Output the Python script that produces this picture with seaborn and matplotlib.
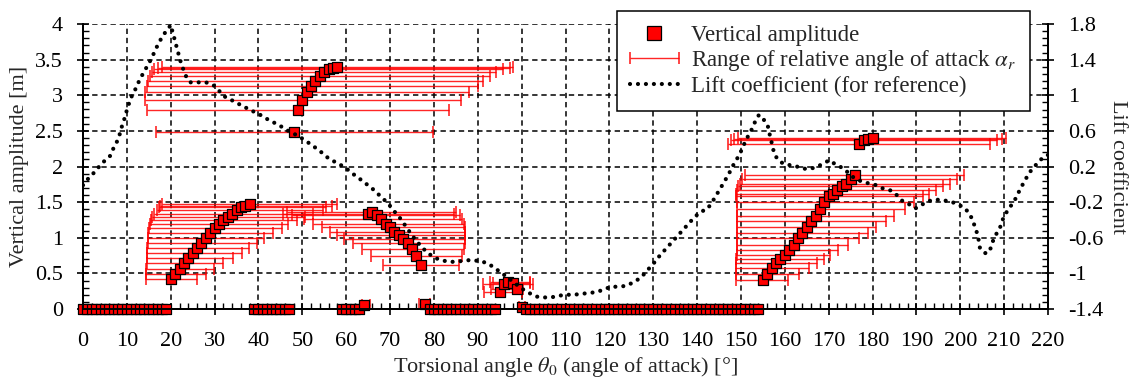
import matplotlib
matplotlib.use("Agg")
import matplotlib.pyplot as plt
import numpy as np
import pandas as pd
import seaborn as sns
from matplotlib.lines import Line2D
from matplotlib.ticker import AutoMinorLocator
from matplotlib.legend_handler import HandlerErrorbar

# ---------------- data ----------------
# squares lying on zero amplitude (no oscillation)
zero_angle = [0, 1, 2, 3, 4, 5, 6, 7, 8, 9, 10, 11, 12, 13, 14, 15, 16, 17, 18, 19,
              39, 40, 41, 42, 43, 44, 45, 46, 47,
              59, 60, 61, 62, 63,
              79, 80, 81, 82, 83, 84, 85, 86, 87, 88, 89, 90, 91, 92, 93, 94,
              101, 102, 103, 104, 105, 106, 107, 108, 109, 110, 111, 112, 113, 114, 115,
              116, 117, 118, 119, 120, 121, 122, 123, 124, 125, 126, 127, 128, 129, 130,
              131, 132, 133, 134, 135, 136, 137, 138, 139, 140, 141, 142, 143, 144, 145,
              146, 147, 148, 149, 150, 151, 152, 153, 154]
zero_amp = [0.0] * len(zero_angle)

# squares with a range of relative angle of attack
angle_a = [20, 21, 22, 23, 24, 25, 26, 27, 28, 29, 30, 31, 32, 33, 34, 35, 36, 37, 38]
amp_a = [0.42, 0.49, 0.56, 0.64, 0.71, 0.78, 0.85, 0.92, 0.99, 1.06, 1.13, 1.19, 1.25,
         1.29, 1.34, 1.39, 1.43, 1.45, 1.47]
low_a = [14.3, 14.3, 14.4, 14.5, 14.6, 14.6, 14.7, 14.8, 14.8, 14.9, 15.0, 15.2, 15.4,
         15.7, 16.2, 16.8, 17.3, 17.6, 17.9]
high_a = [25.9, 28.0, 29.9, 32.0, 34.1, 36.2, 37.9, 39.6, 41.3, 43.3, 45.3, 46.8, 48.7,
          50.6, 52.5, 54.7, 55.5, 56.7, 57.8]

angle_b = [48, 49, 50, 51, 52, 53, 54, 55, 56, 57, 58]
amp_b = [2.49, 2.79, 2.94, 3.05, 3.13, 3.20, 3.27, 3.33, 3.37, 3.38, 3.40]
low_b = [16.6, 14.7, 14.1, 14.1, 14.5, 14.8, 15.3, 15.7, 16.2, 17.2, 17.9]
high_b = [79.7, 83.5, 86.1, 88.1, 90.0, 91.3, 92.8, 94.2, 95.8, 97.4, 98.1]

angle_c = [64, 65, 66, 67, 68, 69, 70, 71, 72, 73, 74, 75, 76, 77, 78]
amp_c = [0.05, 1.34, 1.36, 1.32, 1.27, 1.20, 1.15, 1.08, 1.04, 0.98, 0.92, 0.84, 0.74, 0.62, 0.07]
low_c = [63.5, 45.5, 46.5, 47.6, 50.4, 52.5, 54.4, 56.3, 57.8, 59.5, 61.5, 63.5, 65.6, 68.3, 76.5]
high_c = [65.4, 84.5, 85.0, 86.0, 86.5, 86.8, 87.0, 87.0, 87.2, 87.2, 87.0, 86.8, 86.5, 85.8, 79.0]

angle_d = [95, 96, 97, 98, 99, 100]
amp_d = [0.24, 0.35, 0.38, 0.36, 0.28, 0.03]
low_d = [91.4, 91.3, 92.8, 93.5, 93.0, 99.3]
high_d = [100.0, 102.7, 101.8, 102.0, 100.2, 100.7]

angle_e = [155, 156, 157, 158, 159, 160, 161, 162, 163, 164, 165, 166, 167, 168, 169,
           170, 171, 172, 173, 174, 175, 176, 177, 178, 179, 180]
amp_e = [0.41, 0.49, 0.57, 0.64, 0.70, 0.76, 0.83, 0.90, 0.99, 1.07, 1.15, 1.24, 1.30,
         1.40, 1.50, 1.58, 1.62, 1.67, 1.72, 1.76, 1.82, 1.88, 2.32, 2.37, 2.39, 2.40]
low_e = [148.9, 148.9, 148.8, 148.8, 148.9, 149.0, 149.1, 149.2, 149.2, 149.2, 149.2,
         149.2, 149.1, 149.0, 149.0, 148.8, 148.8, 149.0, 149.3, 149.8, 150.3, 150.9,
         147.1, 147.8, 148.5, 149.4]
high_e = [160.7, 163.2, 165.4, 167.3, 169.0, 170.2, 172.2, 174.3, 176.8, 178.9, 180.9,
          183.0, 185.0, 187.3, 189.5, 191.4, 192.9, 194.4, 196.0, 197.7, 199.2, 200.9,
          206.8, 208.3, 209.4, 210.4]

# lift coefficient (right axis)
cl_angle = [0, 0.46, 1.45, 2.5, 3.7, 4.85, 6.2, 6.9, 7.7, 8.3, 8.8, 9.35, 9.8, 10.3,
            10.9, 11.7, 12.4, 13.2, 14.0, 14.9, 15.7, 16.4, 17.2, 18.1, 19.1, 20.06,
            20.45, 21.0, 21.4, 21.9, 22.3, 22.95, 23.6, 24.5, 26.3, 28.0, 29.7, 30.85,
            32.1, 33.7, 35.2, 36.8, 38.2, 39.8, 41.3, 42.9, 44.4, 45.9, 47.4, 48.9, 50.4,
            51.9, 53.3, 54.6, 56.0, 57.5, 59.0, 60.5, 62.0, 63.4, 64.7, 66.0, 67.3, 68.6,
            69.8, 70.9, 72.0, 73.0, 74.0, 75.1, 76.1, 77.3, 78.4, 79.9, 81.6, 83.3, 84.8,
            86.6, 88.3, 90.1, 91.9, 93.3, 94.7, 96.1, 97.4, 98.7, 100.0, 101.7, 103.3,
            104.9, 106.7, 108.6, 110.3, 111.9, 113.7, 115.4, 117.1, 118.8, 120.3, 122.1,
            123.8, 125.5, 126.8, 128.1, 129.3, 130.4, 131.5, 132.6, 133.7, 134.8, 135.9,
            137.0, 138.1, 139.2, 140.7, 142.3, 143.3, 144.3, 145.1, 146.0, 146.8, 147.7,
            148.5, 149.4, 150.2, 150.9, 151.7, 152.5, 153.2, 154.1, 155.3, 156.1, 156.5,
            156.9, 157.3, 157.8, 159.0, 160.4, 162.2, 163.8, 165.4, 167.0, 168.7, 170.1,
            171.7, 173.3, 175.6, 177.5, 179.2, 180.9, 182.5, 184.2, 185.5, 186.6, 188.2,
            189.8, 191.2, 192.7, 194.3, 196.0, 197.7, 199.6, 200.9, 202.1, 202.9, 203.4,
            204.0, 204.5, 205.9, 206.9, 207.5, 208.3, 209.1, 209.8, 210.7, 211.7, 212.5,
            213.6, 214.8, 215.9, 217.1, 218.2, 219.1, 220.0]
cl_value = [-0.01, 0.02, 0.08, 0.13, 0.20, 0.26, 0.32, 0.40, 0.475, 0.55, 0.64, 0.72,
            0.80, 0.88, 0.97, 1.04, 1.12, 1.20, 1.27, 1.35, 1.42, 1.50, 1.58, 1.66, 1.73,
            1.79, 1.70, 1.61, 1.53, 1.44, 1.37, 1.28, 1.20, 1.145, 1.145, 1.145, 1.115,
            1.06, 0.99, 0.95, 0.91, 0.87, 0.83, 0.80, 0.75, 0.71, 0.67, 0.63, 0.58, 0.55,
            0.50, 0.45, 0.40, 0.35, 0.29, 0.25, 0.21, 0.16, 0.10, 0.05, 0.0, -0.05,
            -0.11, -0.17, -0.23, -0.30, -0.36, -0.43, -0.50, -0.58, -0.64, -0.71, -0.76,
            -0.82, -0.85, -0.87, -0.87, -0.86, -0.85, -0.86, -0.88, -0.92, -0.97, -1.02,
            -1.07, -1.12, -1.17, -1.22, -1.26, -1.27, -1.27, -1.25, -1.24, -1.24, -1.23,
            -1.22, -1.21, -1.18, -1.15, -1.15, -1.14, -1.10, -1.06, -1.00, -0.93, -0.87,
            -0.80, -0.74, -0.68, -0.62, -0.56, -0.50, -0.44, -0.38, -0.31, -0.28, -0.21,
            -0.13, -0.06, 0.01, 0.08, 0.16, 0.24, 0.31, 0.39, 0.47, 0.55, 0.62, 0.70,
            0.78, 0.72, 0.66, 0.57, 0.49, 0.40, 0.32, 0.25, 0.22, 0.21, 0.18, 0.17, 0.19,
            0.23, 0.27, 0.22, 0.18, 0.08, 0.03, 0.01, -0.01, -0.05, -0.07, -0.12, -0.18,
            -0.22, -0.27, -0.23, -0.19, -0.17, -0.18, -0.19, -0.23, -0.26, -0.33, -0.41,
            -0.49, -0.57, -0.72, -0.78, -0.72, -0.63, -0.55, -0.48, -0.38, -0.30, -0.23,
            -0.17, -0.06, 0.05, 0.14, 0.21, 0.27, 0.31, 0.33]

x_ticks = [0, 10, 20, 30, 40, 50, 60, 70, 80, 90, 100, 110, 120, 130, 140, 150, 160,
           170, 180, 190, 200, 210, 220]
y_ticks = [0, 0.5, 1, 1.5, 2, 2.5, 3, 3.5, 4]
cl_ticks = [-1.4, -1, -0.6, -0.2, 0.2, 0.6, 1, 1.4, 1.8]
cl_tick_labels = ["-1.4", "-1", "-0.6", "-0.2", "0.2", "0.6", "1", "1.4", "1.8"]

# ---------------- frames ----------------
rng = pd.DataFrame({
    "angle": angle_a + angle_b + angle_c + angle_d + angle_e,
    "amp": amp_a + amp_b + amp_c + amp_d + amp_e,
    "low": low_a + low_b + low_c + low_d + low_e,
    "high": high_a + high_b + high_c + high_d + high_e,
})
zero = pd.DataFrame({"angle": zero_angle, "amp": zero_amp})
squares = pd.concat([zero, rng[["angle", "amp"]]]).sort_values("angle", kind="stable")
cl = pd.DataFrame({"angle": cl_angle, "cl": cl_value})

# ---------------- style ----------------
sns.set_theme(style="ticks")
plt.rcParams["font.family"] = ["Liberation Serif", "DejaVu Serif"]
plt.rcParams["mathtext.fontset"] = "stix"
FS = 16
plt.rcParams["font.size"] = FS

W, H = 1137, 382
fig = plt.figure(figsize=(W / 100, H / 100), dpi=100)
ax = fig.add_axes([83 / W, 1 - 309 / H, 965 / W, 285 / H])
ax2 = ax.twinx()

ax.set_xlim(0, 220)
ax.set_ylim(0, 4)
ax2.set_ylim(-1.4, 1.8)

# grid
grid_kw = dict(color="black", lw=1.1, ls=(0, (3.5, 2.5)))
for v in x_ticks[1:-1]:
    ax.axvline(v, zorder=0.5, **grid_kw)
for v in y_ticks[1:]:
    ax.axhline(v, zorder=0.5, **grid_kw)

# range bars
eb = ax.errorbar(rng["angle"], rng["amp"],
                 xerr=[rng["angle"] - rng["low"], rng["high"] - rng["angle"]],
                 fmt="none", ecolor=(1, 0, 0, 0.85), elinewidth=1.0, capsize=4.5,
                 capthick=1.2, zorder=2)

# squares
sns.scatterplot(data=squares, x="angle", y="amp", marker="s", s=62, color="#ff0000",
                edgecolor="black", linewidth=0.9, ax=ax, zorder=3, legend=False,
                clip_on=False)

# lift coefficient
dot_ls = (0, (0.01, 1.9))
sns.lineplot(data=cl, x="angle", y="cl", ax=ax2, color="black", lw=3.0,
             linestyle=dot_ls, dash_capstyle="round", sort=False, estimator=None,
             legend=False)

# axes styling
for a in (ax, ax2):
    for s in a.spines.values():
        s.set_linewidth(1.4)
        s.set_color("black")
    a.spines["top"].set_visible(False)

ax.set_xticks(x_ticks)
ax.set_yticks(y_ticks)
ax.set_yticklabels([f"{v:g}" for v in y_ticks])
ax.xaxis.set_minor_locator(AutoMinorLocator(5))
ax.yaxis.set_minor_locator(AutoMinorLocator(5))
ax2.set_yticks(cl_ticks)
ax2.set_yticklabels(cl_tick_labels)
ax2.yaxis.set_minor_locator(AutoMinorLocator(5))

for a in (ax, ax2):
    a.tick_params(which="major", direction="inout", length=9, width=1.2,
                  labelsize=FS, colors="black", pad=10)
    a.tick_params(which="minor", direction="in", length=4.5, width=1.0, colors="black")
ax.tick_params(axis="x", which="major", pad=12)
ax.tick_params(top=False, which="both")
ax2.tick_params(top=False, which="both")

ax.set_xlabel("Torsional angle $\\theta_0$ (angle of attack) [°]", fontsize=FS, labelpad=3)
ax.set_ylabel("Vertical amplitude [m]", fontsize=FS, labelpad=4)
ax2.set_ylabel("Lift coefficient", fontsize=FS, rotation=270, labelpad=17)
ax.grid(False)
ax2.grid(False)

# legend
LFS = 16.5
h_sq = Line2D([], [], marker="s", color="#ff0000", markeredgecolor="black",
              markeredgewidth=0.9, ls="none", markersize=10)
h_cl = Line2D([], [], color="black", lw=3.0, ls=dot_ls, dash_capstyle="round")
leg = ax2.legend([h_sq, eb, h_cl],
                 ["Vertical amplitude", "Range of relative angle of attack $\\alpha_r$",
                  "Lift coefficient (for reference)"],
                 loc="upper left", bbox_to_anchor=(0.553, 1.046), fontsize=LFS,
                 frameon=True, fancybox=False, framealpha=1, edgecolor="black",
                 handlelength=2.1, handletextpad=0.55, labelspacing=0.12, borderpad=0.6,
                 borderaxespad=0,
                 handler_map={eb: HandlerErrorbar(xerr_size=1.05)})
leg.get_frame().set_linewidth(1.1)
leg.set_zorder(10)

fig.savefig("out.png", dpi=100)
